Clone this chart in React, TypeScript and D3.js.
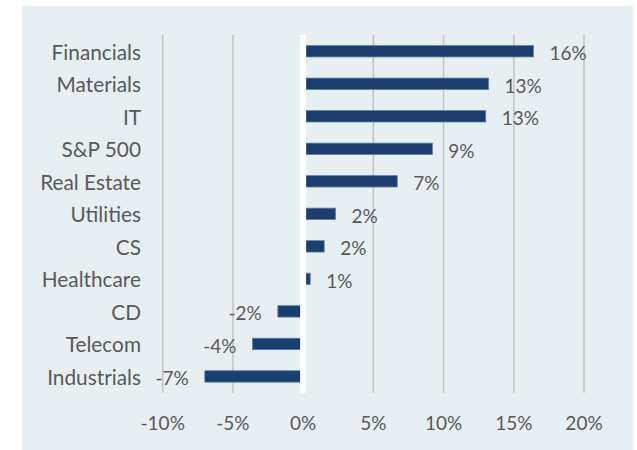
import React from "react";
import * as d3 from "d3";

const categories = ["Financials", "Materials", "IT", "S&P 500", "Real Estate", "Utilities", "CS", "Healthcare", "CD", "Telecom", "Industrials"];
const values = [16.4, 13.2, 13.0, 9.2, 6.7, 2.3, 1.5, 0.5, -1.8, -3.6, -7.0];
const valueLabels = ["16%", "13%", "13%", "9%", "7%", "2%", "2%", "1%", "-2%", "-4%", "-7%"];
const xTicks = [-10, -5, 0, 5, 10, 15, 20];

const W = 637;
const H = 450;
const FONT = "Lato, 'Open Sans', sans-serif";
const TEXT = "#595959";

export default function App() {
  const x = d3.scaleLinear().domain([-10, 20]).range([162.7, 584]);
  const y = d3
    .scaleBand<string>()
    .domain(categories)
    .range([35, 392.7])
    .paddingInner(0.65)
    .paddingOuter(0.325);
  const bw = y.bandwidth();
  const [top, bottom] = y.range();

  return (
    <svg
      width={W}
      height={H}
      style={{ position: "absolute", left: 0, top: 0 }}
      fontFamily={FONT}
    >
      <rect x={0} y={0} width={W} height={H} fill="#ffffff" />
      <rect x={22} y={6} width={611} height={H - 6} fill="#e7eff3" />
      {xTicks.filter((t) => t !== 0).map((t) => (
        <line key={t} x1={x(t)} x2={x(t)} y1={top} y2={bottom} stroke="#c3c3c3" strokeWidth={1.5} />
      ))}
      {categories.map((c, i) => {
        const v = values[i];
        const x0 = x(Math.min(0, v));
        const x1 = x(Math.max(0, v));
        const cy = (y(c) as number) + bw / 2;
        return (
          <g key={c}>
            <rect x={x0} y={y(c)} width={x1 - x0} height={bw} fill="#1a3e6e" stroke="#5d7ea8" strokeWidth={0.8} />
            <text
              x={v >= 0 ? x(v) + 16 : x(v) - 16}
              y={cy + 1.5}
              textAnchor={v >= 0 ? "start" : "end"}
              dominantBaseline="central"
              fontSize={19}
              fill={TEXT}
            >
              {valueLabels[i]}
            </text>
            <text x={141} y={cy} textAnchor="end" dominantBaseline="central" fontSize={20.8} fill={TEXT}>
              {c}
            </text>
          </g>
        );
      })}
      <line x1={x(0)} x2={x(0)} y1={top} y2={bottom} stroke="#ffffff" strokeWidth={6} />
      {xTicks.map((t) => (
        <text key={t} x={x(t)} y={422} textAnchor="middle" dominantBaseline="central" fontSize={19} fill={TEXT}>
          {`${t}%`}
        </text>
      ))}
    </svg>
  );
}
